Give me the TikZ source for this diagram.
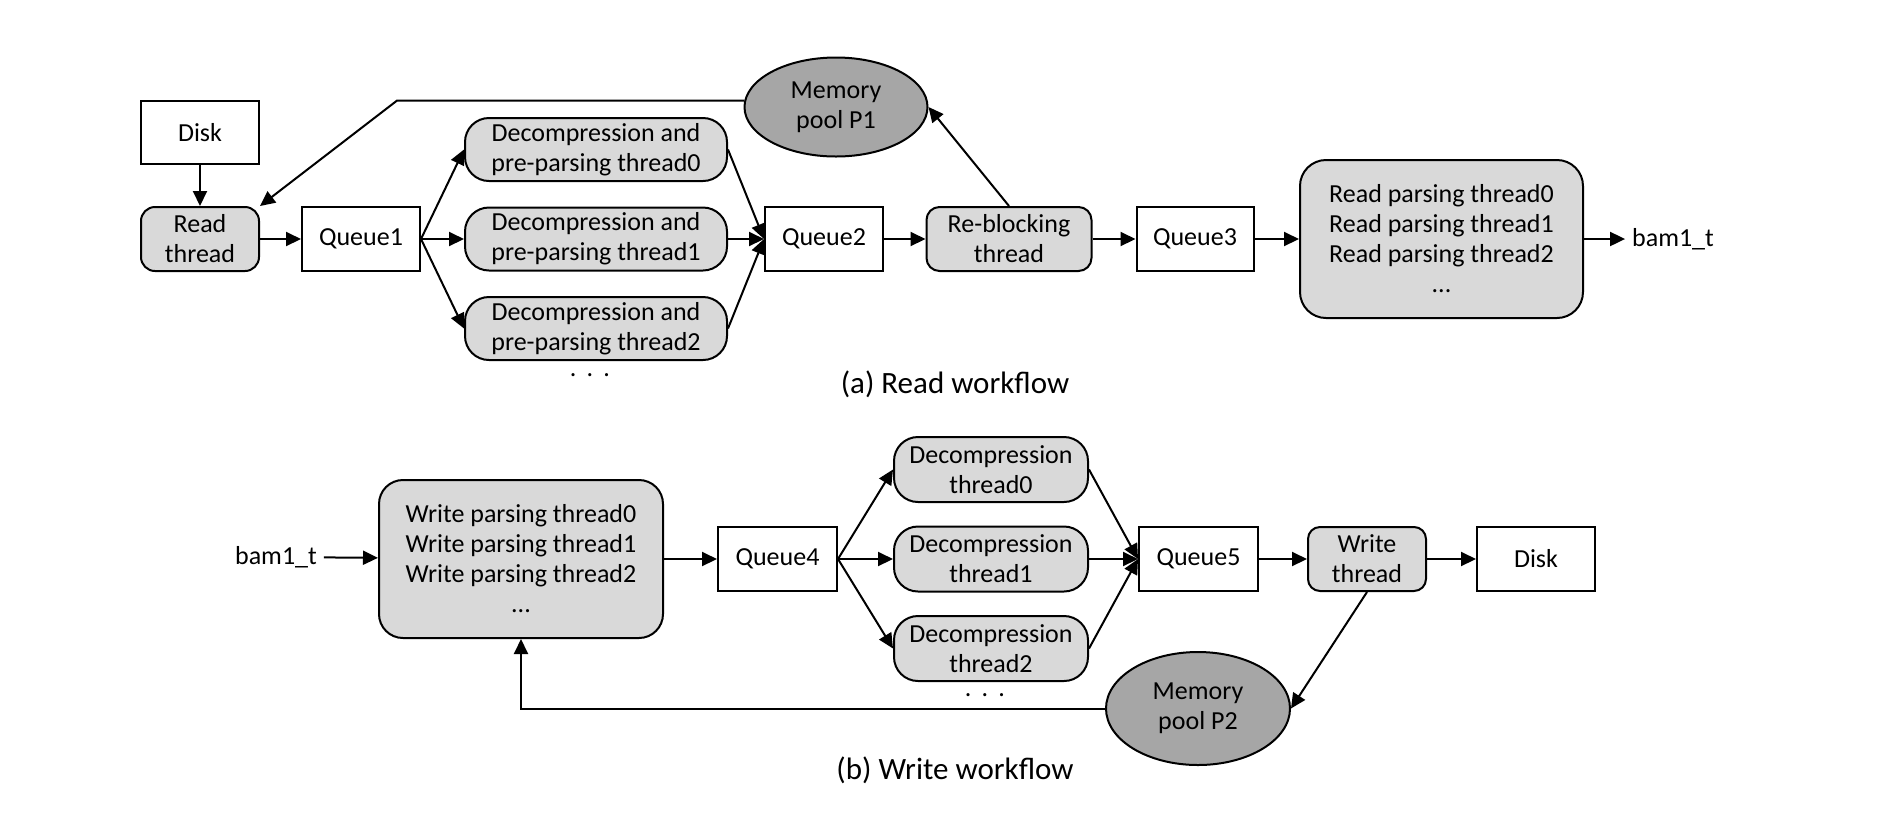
\documentclass[tikz,border=0pt]{standalone}
\usepackage{fontspec}
\setmainfont{Carlito}
\usetikzlibrary{shapes.geometric,arrows.meta}
\definecolor{thr}{RGB}{217,217,217}
\definecolor{pool}{RGB}{166,166,166}
\begin{document}
\begin{tikzpicture}[x=0.5pt,y=-0.5pt,
  every node/.style={font=\fontsize{13}{15}\selectfont},
  sq/.style={draw, line width=1pt, align=center, inner sep=0pt, minimum height=32pt, minimum width=59pt},
  rr/.style={sq, fill=thr, rounded corners=#1},
  rr/.default=7pt,
  pl/.style={ellipse, draw, line width=1pt, fill=pool, align=center, inner sep=0pt},
  arr/.style={-{Triangle[length=7.5pt,width=7pt]}, line width=1pt},
  capt/.style={font=\fontsize{15.5}{18}\selectfont}
]
\useasboundingbox (0,0) rectangle (1880,832);

% ---- (a) Read workflow ----
\node[sq, minimum height=31.5pt] (disk1) at (200,132.5) {Disk};
\node[rr] (rt) at (200,239) {Read\\thread};
\node[sq] (q1) at (361,239) {Queue1};
\node[rr=12pt, minimum width=131pt, minimum height=31.5pt] (d0) at (596,149.5) {Decompression and\\pre-parsing thread0};
\node[rr=12pt, minimum width=131pt, minimum height=31.5pt] (d1) at (596,239) {Decompression and\\pre-parsing thread1};
\node[rr=12pt, minimum width=131pt, minimum height=31.5pt] (d2) at (596,328.5) {Decompression and\\pre-parsing thread2};
\node (dots1) at (590,375) {.\ \,.\ \,.};
\node[sq] (q2) at (824,239) {Queue2};
\node[pl, minimum width=91.5pt, minimum height=49.5pt] (P1) at (836,107) {Memory\\pool P1};
\node[rr=6.5pt, minimum width=82.5pt] (rb) at (1009,239) {Re-blocking\\thread};
\node[sq, minimum width=58.5pt] (q3) at (1195,239) {Queue3};
\node[rr=13pt, minimum width=141.5pt, minimum height=79pt] (rp) at (1441.5,239) {Read parsing thread0\\Read parsing thread1\\Read parsing thread2\\...};
\node (bo) at (1673,239) {bam1\_t};
\node[capt] (ca) at (955,384) {(a) Read workflow};

\draw[arr] (disk1) -- (rt);
\draw[arr] (rt) -- (q1);
\foreach \n in {d0,d1,d2}{
  \draw[arr] (q1.east) -- (\n.west);
  \draw[arr] (\n.east) -- (q2.west);
}
\draw[arr] (q2) -- (rb);
\draw[arr] (rb) -- (q3);
\draw[arr] (q3) -- (rp);
\draw[arr] (rp) -- (bo);
\draw[arr] (rb.north) -- (P1.east);
\coordinate (k1) at (397,101);
\draw[arr] (P1.176) -- (P1.176 -| k1) -- (rt.north east);

% ---- (b) Write workflow ----
\node (bi) at (276,557) {bam1\_t};
\node[rr=12pt, minimum width=142pt, minimum height=79pt] (wp) at (521,559) {Write parsing thread0\\Write parsing thread1\\Write parsing thread2\\...};
\node[sq, minimum width=59.5pt] (q4) at (777.5,559) {Queue4};
\node[rr=12pt, minimum width=97pt, minimum height=32.5pt] (e0) at (991,469.5) {Decompression\\thread0};
\node[rr=12pt, minimum width=97pt, minimum height=32.5pt] (e1) at (991,559) {Decompression\\thread1};
\node[rr=12pt, minimum width=97pt, minimum height=32.5pt] (e2) at (991,648.5) {Decompression\\thread2};
\node (dots2) at (985,695) {.\ \,.\ \,.};
\node[sq, minimum width=59.5pt] (q5) at (1198.5,559) {Queue5};
\node[rr=6pt] (wt) at (1367,559) {Write\\thread};
\node[sq] (disk2) at (1536,559) {Disk};
\node[pl, minimum width=92pt, minimum height=56.5pt] (P2) at (1198,708.5) {Memory\\pool P2};
\node[capt] (cb) at (955,770) {(b) Write workflow};

\draw[arr] (bi) -- (wp);
\draw[arr] (wp) -- (q4);
\foreach \n in {e0,e1,e2}{
  \draw[arr] (q4.east) -- (\n.west);
  \draw[arr] (\n.east) -- (q5.west);
}
\draw[arr] (q5) -- (wt);
\draw[arr] (wt) -- (disk2);
\draw[arr] (wt.south) -- (P2.east);
\draw[arr] (P2.west) -| (wp.south);
\end{tikzpicture}
\end{document}
